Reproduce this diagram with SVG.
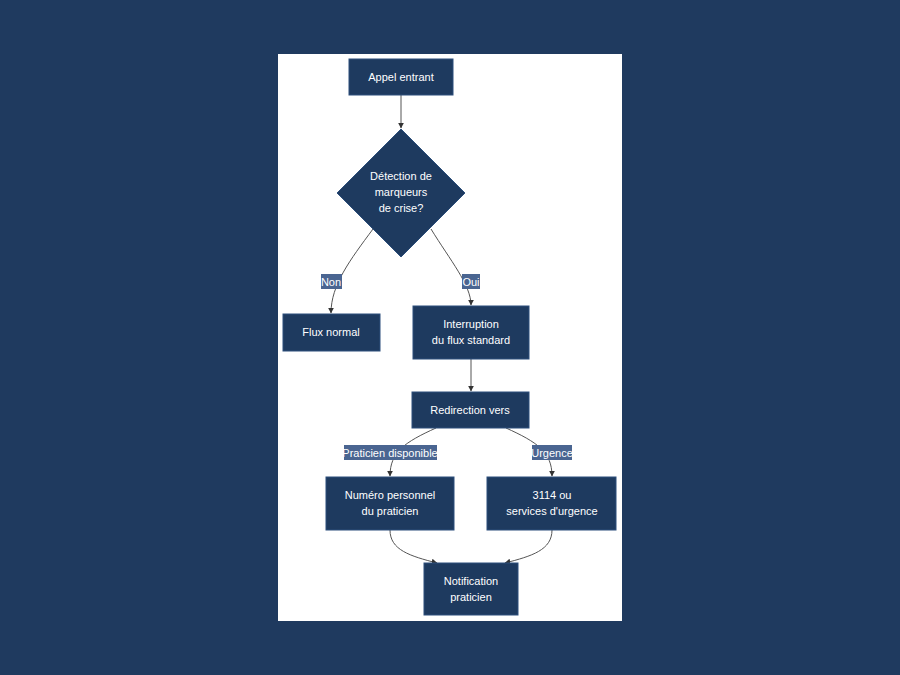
<svg xmlns="http://www.w3.org/2000/svg" width="900" height="675" viewBox="0 0 900 675">
<defs>
<marker id="ah" viewBox="0 0 10 10" refX="9" refY="5" markerWidth="6" markerHeight="6" orient="auto"><path d="M0,0 L10,5 L0,10 z" fill="#333"/></marker>
<style>
.n{fill:#1e3a5f;stroke:#2c4f7c;stroke-width:1}
.t{fill:#fff;font-family:"Liberation Sans",Arial,sans-serif;font-size:11px;text-anchor:middle}
.e{fill:none;stroke:#555;stroke-width:1;marker-end:url(#ah)}
.lb{fill:#4a6591}
</style>
</defs>
<rect width="900" height="675" fill="#1f3a5f"/>
<rect x="278" y="54" width="344" height="567" fill="#fff"/>
<g id="edges">
<path class="e" d="M401,95 L401,128"/>
<path class="e" d="M373,229 C350,260 331,285 331,313"/>
<path class="e" d="M431,229 C450,260 471,285 471,305"/>
<path class="e" d="M471,359 L471,391"/>
<path class="e" d="M436,428 C405,442 390,452 390,476"/>
<path class="e" d="M506,428 C537,442 552,452 552,476"/>
<path class="e" d="M390,530 C390,550 410,556 437,563"/>
<path class="e" d="M552,530 C552,550 532,556 505,563"/>
<rect class="lb" x="321" y="274" width="21" height="15"/><text class="t" x="331" y="286">Non</text>
<rect class="lb" x="462" y="274" width="18" height="15"/><text class="t" x="471" y="286">Oui</text>
<rect class="lb" x="344" y="445" width="93" height="15"/><text class="t" x="390" y="457">Praticien disponible</text>
<rect class="lb" x="532" y="445" width="40" height="15"/><text class="t" x="552" y="457">Urgence</text>
</g>
<g id="appel"><rect class="n" x="349" y="59" width="104" height="36"/><text class="t" x="401" y="81">Appel entrant</text></g>
<g id="detection"><path class="n" d="M401,129 L465,193 L401,257 L337,193 z"/><text class="t" x="401" y="180">Détection de</text><text class="t" x="401" y="196">marqueurs</text><text class="t" x="401" y="212">de crise?</text></g>
<g id="flux"><rect class="n" x="283" y="314" width="97" height="37"/><text class="t" x="331" y="336">Flux normal</text></g>
<g id="interruption"><rect class="n" x="413" y="306" width="116" height="53"/><text class="t" x="471" y="328">Interruption</text><text class="t" x="471" y="344">du flux standard</text></g>
<g id="redirection"><rect class="n" x="412" y="392" width="117" height="36"/><text class="t" x="470" y="414">Redirection vers</text></g>
<g id="numero"><rect class="n" x="326" y="477" width="128" height="53"/><text class="t" x="390" y="499">Numéro personnel</text><text class="t" x="390" y="515">du praticien</text></g>
<g id="urgence"><rect class="n" x="487" y="477" width="129" height="53"/><text class="t" x="552" y="499">3114 ou</text><text class="t" x="552" y="515">services d'urgence</text></g>
<g id="notification"><rect class="n" x="424" y="563" width="94" height="52"/><text class="t" x="471" y="585">Notification</text><text class="t" x="471" y="601">praticien</text></g>
</svg>
